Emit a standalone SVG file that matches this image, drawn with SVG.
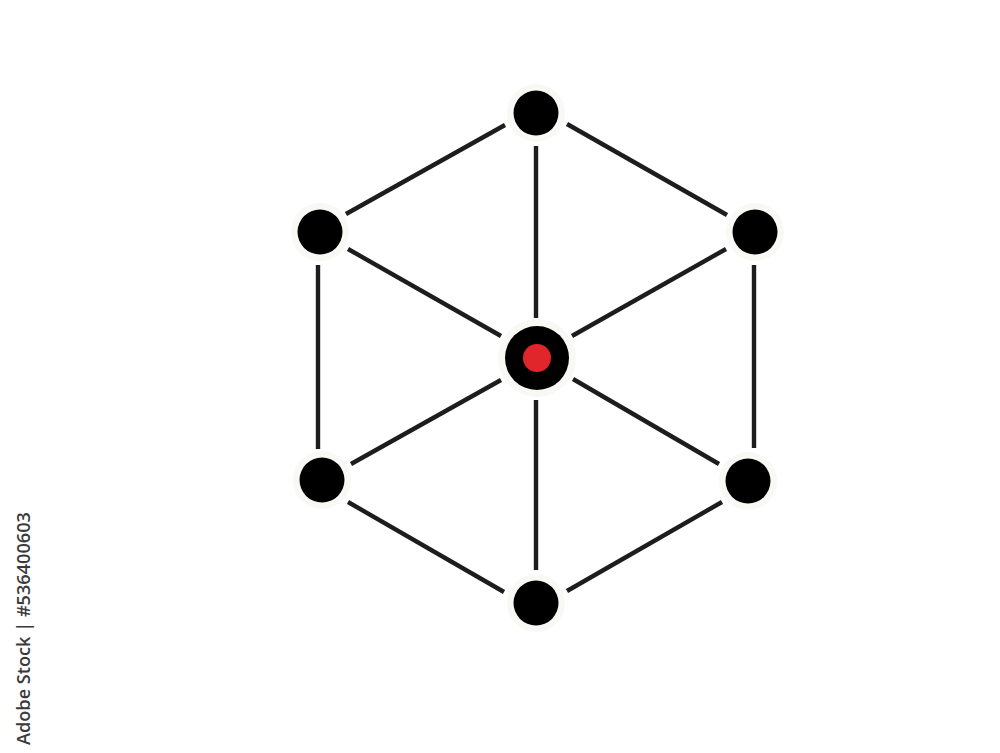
<svg xmlns="http://www.w3.org/2000/svg" width="1000" height="753" viewBox="0 0 1000 753">
<style>
.edge{stroke:#1e1c1d;stroke-width:4.4;stroke-linecap:butt;fill:none}
.halo{fill:#f8f8f5}
.dot{fill:#000}
.id{font-family:"Open Sans","Liberation Sans",sans-serif;font-size:17.5px;font-weight:600;fill:#3a3a3a}
</style>
<rect width="1000" height="753" fill="#ffffff"/>
<g id="connectors">
<line class="edge" x1="505" y1="125" x2="346" y2="214"/>
<line class="edge" x1="567" y1="124" x2="727" y2="215"/>
<line class="edge" x1="536" y1="146" x2="536" y2="318"/>
<line class="edge" x1="318" y1="265" x2="318" y2="449"/>
<line class="edge" x1="754" y1="265" x2="754" y2="448"/>
<line class="edge" x1="348" y1="249" x2="501" y2="336"/>
<line class="edge" x1="726" y1="249" x2="572" y2="336"/>
<line class="edge" x1="501" y1="380" x2="351" y2="464"/>
<line class="edge" x1="573" y1="379" x2="719" y2="464"/>
<line class="edge" x1="536" y1="400" x2="536" y2="570"/>
<line class="edge" x1="348" y1="502" x2="504" y2="592"/>
<line class="edge" x1="722" y1="502" x2="567" y2="591"/>
</g>
<g id="node-top"><circle class="halo" cx="536" cy="113" r="29"/><circle class="dot" cx="536" cy="113" r="22.5"/></g>
<g id="node-upper-left"><circle class="halo" cx="320" cy="232" r="29"/><circle class="dot" cx="320" cy="232" r="22.5"/></g>
<g id="node-upper-right"><circle class="halo" cx="755" cy="232" r="29"/><circle class="dot" cx="755" cy="232" r="22.5"/></g>
<g id="node-lower-left"><circle class="halo" cx="322" cy="480" r="29"/><circle class="dot" cx="322" cy="480" r="22.5"/></g>
<g id="node-lower-right"><circle class="halo" cx="748" cy="481" r="29"/><circle class="dot" cx="748" cy="481" r="22.5"/></g>
<g id="node-bottom"><circle class="halo" cx="536" cy="603" r="29"/><circle class="dot" cx="536" cy="603" r="22.5"/></g>
<g id="node-center"><circle class="halo" cx="537" cy="358" r="39"/><circle class="dot" cx="537" cy="358" r="32"/><circle cx="537" cy="358" r="14" fill="#e0262a"/></g>
<text class="id" transform="translate(30,745) rotate(-90)" textLength="233" lengthAdjust="spacingAndGlyphs">Adobe Stock | #536400603</text>
</svg>
